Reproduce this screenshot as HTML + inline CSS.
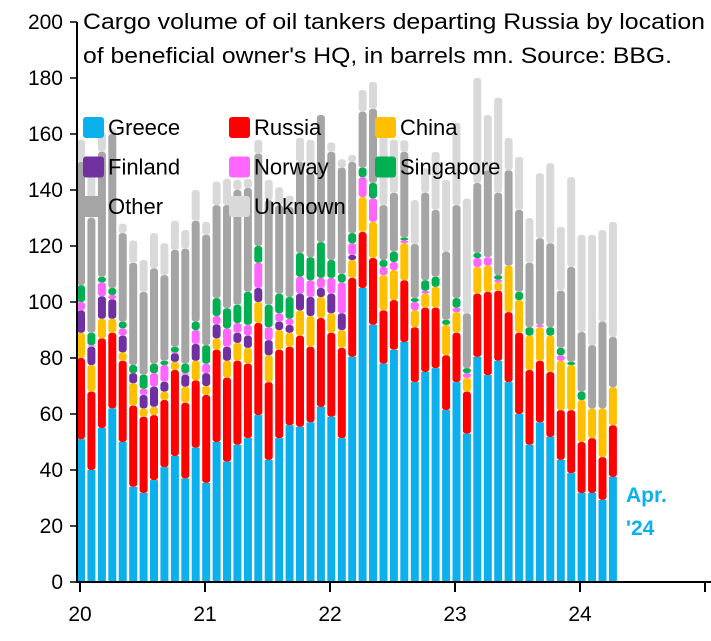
<!DOCTYPE html>
<html><head><meta charset="utf-8"><style>
body{margin:0;background:#fff}
svg text{font-family:"Liberation Sans","DejaVu Sans",sans-serif}
</style></head><body>
<svg id="s" width="711" height="636" xmlns="http://www.w3.org/2000/svg"></svg>
<script>
const D=[
[51,80,89,97,100,106,150,158],
[40,68,77.5,84,84.6,89,130,145],
[55,87,94,102,107,109,153.6,160.7],
[62,89,94,101,102.5,105,160,162],
[50,79,82,88,90.6,93,124.6,128],
[34,63,71,74.6,74.6,77.5,114,122],
[31.8,59,62,66.8,69,74,103.6,115],
[36.4,59.6,62.6,69.8,74.6,78,112,124.6],
[41,65,68,71.5,77.5,79,109.6,121],
[45,75.7,78.6,81.7,82,84,118.6,129],
[37,64,69.8,74,74.6,78,119,125.7],
[48,72,79,85,90,93,129,140],
[35.4,66.8,70,74.6,78,84.6,124,128.6],
[50,83,87,92,95,101.4,134.6,143],
[43,73,79,84,90.6,97.8,134.6,144],
[49,79,85.4,89,92.5,99,140,143.6],
[51.4,78,83.6,88,91.8,103.6,140.7,144],
[59.6,92.5,100,105,114,120,153,157.9],
[43.6,71.4,81,86.4,91,99,136.4,143.6],
[51.4,83,90,93,96,103,134.6,141],
[56,84,89,91.8,94,101.8,134,138],
[55.4,88,97,103,109,117.5,150,158.6],
[57,84,95,101.8,107.8,116,146,157.9],
[62.5,94.3,101.8,105,108.6,121.4,166.8,166.8],
[59,89,96,103,108.6,115,153.6,157],
[51.4,83.6,90,96,107,110,148,151],
[80.4,108.6,115,116.8,121,124.6,150,152.5],
[105,125,137.5,137.5,144.6,148,168,175.7],
[91.8,115.7,128.6,128.6,137,142.5,169,178.6],
[78,97,109.6,109.6,112.5,115,134.6,165],
[82.9,100.7,111.4,111.4,114.3,118,139,158],
[85.7,107.8,121,121,122,123,153.6,157.8],
[71.4,91,97,97,100,101.4,120.7,136.4],
[75,98,103,103,104,107.8,139,147.8],
[76.4,98,105.4,105.4,105.4,109,132.9,153.6],
[61.4,81,91.8,91.8,91.8,93.6,118,143.6],
[71.4,89,96.4,96.4,98,101.4,134.6,164],
[53,68,72.9,72.9,74.6,76.4,96,137],
[80.4,103,112.5,112.5,115.7,117.5,142.5,180],
[73.9,103.6,113,113,116,116,147,166.8],
[79,104,107,107,108,109.6,139,173],
[71.4,96.4,113,113,113,113,147,158.6],
[60,89,100.7,100.7,100.7,103.6,132.9,151.8],
[49,75.7,88,88,88,91,114,130],
[57,79,91,91,91.8,91.8,122.8,146],
[51.8,75,88,88,88,91,121,149.6],
[43.6,61.4,79,79,81,83.6,104,126.8],
[38.9,61.4,77.5,77.5,77.5,78.6,112.5,144.6],
[31.8,50,65,65,65,68,89.3,124],
[31.8,51.4,62,62,62,62,84.6,124],
[29.3,44.6,62,62,62,62,93,125.7],
[37.5,56,69.6,69.6,69.6,69.6,87.5,128.6]];
const C=['#0cb0ed','#ff0000','#ffc000','#7030a0','#ff66ff','#00b050','#a5a5a5','#d9d9d9'];
const Y=v=>582-v*2.8;
let h='';
D.forEach((b,i)=>{
 const x=81+i*10.43-4;let prev=0;
 for(let k=0;k<8;k++){
  const v=b[k];if(v<=prev+0.05)continue;
  h+=`<rect x="${x.toFixed(1)}" y="${Y(v).toFixed(1)}" width="8" height="${(Y(prev)-Y(v)).toFixed(1)}" rx="${k==0?0:3}" fill="${C[k]}"/>`;
  prev=v;
 }
});
h+=`<line x1="77" y1="22" x2="77" y2="582" stroke="#000" stroke-width="2"/>`;
h+=`<line x1="76" y1="582" x2="711" y2="582" stroke="#000" stroke-width="2"/>`;
for(let v=0;v<=200;v+=20){const y=Y(v);
 h+=`<line x1="70" y1="${y}" x2="77" y2="${y}" stroke="#000" stroke-width="1.5"/>`;
 h+=`<text x="63" y="${y+7}" font-size="21" text-anchor="end">${v}</text>`;}
for(let j=0;j<6;j++){const x=80+j*125;
 h+=`<line x1="${x}" y1="582" x2="${x}" y2="592" stroke="#000" stroke-width="2"/>`;
 if(j<5)h+=`<text x="${x}" y="621" font-size="21" text-anchor="middle">${20+j}</text>`;}
h+=`<text x="83" y="29" font-size="22" textLength="622" lengthAdjust="spacingAndGlyphs">Cargo volume of oil tankers departing Russia by location</text>`;
h+=`<text x="83" y="63" font-size="22" textLength="589" lengthAdjust="spacingAndGlyphs">of beneficial owner's HQ, in barrels mn. Source: BBG.</text>`;
const L=[['Greece',0],['Russia',1],['China',2],['Finland',3],['Norway',4],['Singapore',5],['Other',6],['Unknown',7]];
L.forEach((l,i)=>{const cx=83+(i%3)*146,cy=127+Math.floor(i/3)*39.5;
 h+=`<rect x="${cx}" y="${cy-10}" width="21" height="21" rx="3" fill="${C[l[1]]}"/>`;
 h+=`<text x="${cx+25}" y="${cy+8}" font-size="22">${l[0]}</text>`;});
h+=`<text x="626" y="502" font-size="21" font-weight="bold" fill="#0cb0ed">Apr.</text>`;
h+=`<text x="626" y="535" font-size="21" font-weight="bold" fill="#0cb0ed">'24</text>`;
document.getElementById('s').innerHTML=h;
</script>
</body></html>
